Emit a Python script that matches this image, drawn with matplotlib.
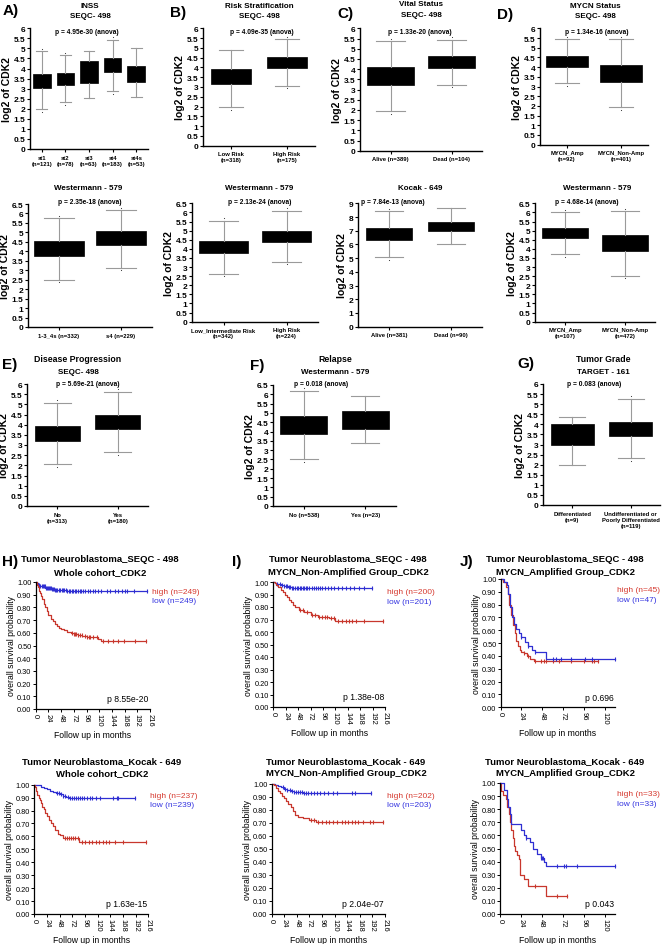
import matplotlib.pyplot as plt
import numpy as np

plt.rcParams['font.family'] = ['Liberation Sans', 'DejaVu Sans']

W, H = 663, 945
nan = np.nan

# ---------------- box plot data (log2 of CDK2) ----------------
inss_labels = ["st1\n(n=121)", "st2\n(n=78)", "st3\n(n=63)", "st4\n(n=183)", "st4s\n(n=53)"]
inss_q1 = [3.05, 3.2, 3.3, 3.85, 3.35]
inss_q3 = [3.75, 3.8, 4.35, 4.5, 4.15]
inss_lo = [2.0, 2.35, 2.55, 2.9, 2.6]
inss_hi = [4.85, 4.65, 4.85, 5.4, 5.0]
inss_dlo = [1.85, 2.2, nan, 2.75, nan]
inss_dhi = [4.95, 4.75, nan, 5.55, nan]

risk_labels = ["Low Risk\n(n=318)", "High Risk\n(n=175)"]
risk_q1 = [3.15, 3.95]
risk_q3 = [3.9, 4.55]
risk_lo = [2.0, 3.05]
risk_hi = [4.9, 5.45]
risk_dlo = [1.85, 2.95]
risk_dhi = [nan, 5.55]

vital_labels = ["Alive (n=389)", "Dead (n=104)"]
vital_q1 = [3.23, 4.07]
vital_q3 = [4.1, 4.62]
vital_lo = [1.97, 3.23]
vital_hi = [5.38, 5.44]
vital_dlo = [1.82, 3.1]
vital_dhi = [5.5, 5.55]

mycn_labels = ["MYCN_Amp\n(n=92)", "MYCN_Non-Amp\n(n=401)"]
mycn_q1 = [4.0, 3.25]
mycn_q3 = [4.55, 4.1]
mycn_lo = [3.2, 1.95]
mycn_hi = [5.45, 5.45]
mycn_dlo = [3.05, 1.8]
mycn_dhi = [5.55, 5.55]

westa_labels = ["1-3_4s (n=332)", "s4 (n=229)"]
westa_q1 = [3.75, 4.33]
westa_q3 = [4.53, 5.05]
westa_lo = [2.51, 3.14]
westa_hi = [5.76, 6.2]
westa_dlo = [2.4, 3.03]
westa_dhi = [5.88, 6.3]

westb_labels = ["Low_Intermediate Risk\n(n=342)", "High Risk\n(n=224)"]
westb_q1 = [3.75, 4.36]
westb_q3 = [4.45, 5.0]
westb_lo = [2.62, 3.3]
westb_hi = [5.55, 6.06]
westb_dlo = [2.5, 3.15]
westb_dhi = [5.7, 6.25]

kocak_labels = ["Alive (n=381)", "Dead (n=90)"]
kocak_q1 = [6.35, 6.98]
kocak_q3 = [7.18, 7.66]
kocak_lo = [5.06, 6.03]
kocak_hi = [8.47, 8.64]
kocak_dlo = [4.9, nan]
kocak_dhi = [8.6, nan]

westd_labels = ["MYCN_Amp\n(n=107)", "MYCN_Non-Amp\n(n=472)"]
westd_q1 = [4.58, 3.86]
westd_q3 = [5.14, 4.76]
westd_lo = [3.7, 2.49]
westd_hi = [6.01, 6.1]
westd_dlo = [3.55, 2.38]
westd_dhi = [6.15, 6.2]

prog_labels = ["No\n(n=313)", "Yes\n(n=180)"]
prog_q1 = [3.2, 3.77]
prog_q3 = [3.93, 4.5]
prog_lo = [2.05, 2.66]
prog_hi = [5.07, 5.62]
prog_dlo = [1.9, 2.5]
prog_dhi = [5.2, 5.75]

relapse_labels = ["No (n=538)", "Yes (n=23)"]
relapse_q1 = [3.88, 4.14]
relapse_q3 = [4.82, 5.09]
relapse_lo = [2.5, 3.39]
relapse_hi = [6.2, 5.9]
relapse_dlo = [2.35, nan]
relapse_dhi = [6.35, nan]

grade_labels = ["Differentiated\n(n=9)", "Undifferentiated or\nPoorly Differentiated\n(n=119)"]
grade_q1 = [2.97, 3.42]
grade_q3 = [4.04, 4.12]
grade_lo = [1.98, 2.31]
grade_hi = [4.34, 5.25]
grade_dlo = [nan, 2.2]
grade_dhi = [nan, 5.4]

# ---------------- Kaplan-Meier data (months, survival) ----------------
seqc_all_high_t = [0, 2, 4, 6, 8, 10, 12, 15, 18, 21, 24, 28, 32, 36, 40, 44, 48, 54, 60, 66, 72, 80, 88, 96, 118, 124]
seqc_all_high_s = [1.00, 0.98, 0.96, 0.93, 0.91, 0.89, 0.87, 0.83, 0.80, 0.77, 0.74, 0.71, 0.69, 0.67, 0.655, 0.64,
                   0.63, 0.62, 0.61, 0.60, 0.59, 0.58, 0.575, 0.565, 0.55, 0.535]
seqc_all_high_end = 208
seqc_all_high_cens = [68, 72, 75, 77, 80, 84, 87, 93, 97, 100, 103, 108, 115, 128, 137, 147, 156, 166, 188, 208]
seqc_all_low_t = [0, 2, 4, 6, 9, 12, 18, 24, 30, 36, 48, 60]
seqc_all_low_s = [1.00, 0.995, 0.985, 0.975, 0.97, 0.965, 0.955, 0.95, 0.945, 0.94, 0.935, 0.93]
seqc_all_low_end = 210
seqc_all_low_cens = [6, 9, 11, 13, 15, 17, 19, 21, 23, 25, 27, 29, 31, 33, 35, 37, 39, 41, 44, 46, 49, 51, 54, 57,
                     60, 62, 65, 68, 71, 74, 77, 80, 83, 86, 90, 94, 98, 103, 108, 113, 118, 124, 134, 140, 150,
                     156, 163, 168, 172, 185, 210]

seqc_non_high_t = [0, 3, 6, 10, 14, 18, 22, 26, 30, 34, 38, 42, 50, 60, 72, 86, 108, 120]
seqc_non_high_s = [1.00, 0.99, 0.975, 0.96, 0.94, 0.92, 0.90, 0.88, 0.86, 0.84, 0.82, 0.80, 0.78, 0.76, 0.74,
                   0.72, 0.71, 0.69]
seqc_non_high_end = 212
seqc_non_high_cens = [52, 58, 66, 74, 80, 88, 94, 100, 104, 112, 118, 126, 132, 140, 146, 152, 160, 175, 212]
seqc_non_low_t = [0, 4, 8, 14, 20, 28, 36, 48]
seqc_non_low_s = [1.00, 0.99, 0.985, 0.975, 0.97, 0.96, 0.955, 0.95]
seqc_non_low_end = 190
seqc_non_low_cens = [8, 12, 16, 20, 24, 27, 30, 33, 36, 39, 42, 45, 48, 51, 54, 57, 60, 63, 66, 70, 74, 78, 82,
                     86, 90, 95, 100, 106, 112, 118, 125, 132, 140, 148, 156, 166, 176, 190]

seqc_amp_high_t = [0, 3, 6, 8, 10, 12, 14, 16, 18, 20, 22, 24, 27, 30, 34, 38]
seqc_amp_high_s = [1.00, 0.98, 0.94, 0.88, 0.80, 0.72, 0.64, 0.58, 0.52, 0.48, 0.45, 0.43, 0.42, 0.40, 0.38, 0.36]
seqc_amp_high_end = 112
seqc_amp_high_cens = [27, 32, 40, 46, 50, 52, 60, 67, 81, 96, 105, 108, 112]
seqc_amp_low_t = [0, 4, 7, 9, 11, 13, 15, 18, 21, 24, 28, 32, 36, 40, 52]
seqc_amp_low_s = [1.00, 0.98, 0.95, 0.88, 0.78, 0.70, 0.65, 0.61, 0.58, 0.55, 0.51, 0.48, 0.45, 0.43, 0.38]
seqc_amp_low_end = 132
seqc_amp_low_cens = [24, 32, 40, 60, 64, 70, 81, 97, 106, 132]

kocak_all_high_t = [0, 2, 4, 6, 8, 10, 12, 15, 18, 21, 24, 28, 32, 36, 40, 44, 48, 54, 84]
kocak_all_high_s = [1.00, 0.98, 0.95, 0.92, 0.90, 0.88, 0.86, 0.83, 0.81, 0.78, 0.76, 0.73, 0.70, 0.68, 0.65,
                    0.62, 0.61, 0.59, 0.56]
kocak_all_high_end = 212
kocak_all_high_cens = [58, 62, 66, 70, 74, 78, 82, 90, 96, 104, 110, 116, 122, 130, 136, 142, 152, 168, 212]
kocak_all_low_t = [0, 6, 12, 18, 24, 30, 36, 42, 48, 54, 60, 66]
kocak_all_low_s = [1.00, 0.995, 0.985, 0.975, 0.965, 0.955, 0.945, 0.935, 0.925, 0.915, 0.905, 0.90]
kocak_all_low_end = 190
kocak_all_low_cens = [43, 47, 51, 55, 59, 63, 67, 71, 75, 79, 83, 87, 91, 95, 100, 105, 110, 116, 124, 150, 156,
                      159, 190]

kocak_non_high_t = [0, 4, 8, 12, 16, 20, 24, 28, 32, 36, 40, 44, 50, 60, 72, 84]
kocak_non_high_s = [1.00, 0.99, 0.97, 0.95, 0.93, 0.91, 0.89, 0.87, 0.85, 0.82, 0.79, 0.76, 0.745, 0.735, 0.72,
                    0.705]
kocak_non_high_end = 212
kocak_non_high_cens = [74, 80, 88, 96, 104, 110, 117, 125, 134, 140, 146, 153, 158, 164, 174, 187, 193, 212]
kocak_non_low_t = [0, 6, 12, 18, 24, 30, 36, 42, 48, 60]
kocak_non_low_s = [1.00, 0.995, 0.985, 0.975, 0.965, 0.955, 0.95, 0.94, 0.935, 0.93]
kocak_non_low_end = 190
kocak_non_low_cens = [22, 26, 30, 34, 38, 42, 46, 50, 54, 58, 62, 66, 70, 75, 80, 86, 92, 100, 108, 117, 125,
                      153, 158, 190]

kocak_amp_high_t = [0, 1, 4, 6.5, 8.5, 10, 11.5, 13, 14.5, 16, 17.5, 20, 21.5, 23, 27, 32, 53]
kocak_amp_high_s = [1.00, 0.94, 0.91, 0.88, 0.82, 0.76, 0.70, 0.64, 0.58, 0.52, 0.48, 0.45, 0.42, 0.30, 0.27,
                    0.21, 0.14]
kocak_amp_high_end = 77
kocak_amp_high_cens = [40, 65, 77]
kocak_amp_low_t = [0, 5, 7.5, 9.5, 11.5, 13, 24, 27, 30, 34, 38, 42, 47, 51, 53]
kocak_amp_low_s = [1.00, 0.95, 0.88, 0.82, 0.76, 0.69, 0.64, 0.60, 0.58, 0.55, 0.50, 0.46, 0.43, 0.40, 0.37]
kocak_amp_low_end = 132
kocak_amp_low_cens = [30, 47, 48, 49, 65, 74, 76, 88, 132]

RED = '#c8372d'
BLUE = '#2f2fd2'
GREY = '#9a9a9a'

fig = plt.figure(figsize=(W / 100, H / 100), dpi=100)


def px_rect(l, t, r, b):
    return [l / W, 1 - b / H, (r - l) / W, (b - t) / H]


def ftext(x, y, s, **kw):
    fig.text(x / W, 1 - y / H, s, **kw)


def box_panel(rect, labels, q1, q3, lo, hi, dlo, dhi, ymax, ystep, width):
    ax = fig.add_axes(px_rect(*rect))
    stats = []
    for i in range(len(labels)):
        fl = [v for v in (dlo[i], dhi[i]) if not np.isnan(v)]
        stats.append(dict(med=(q1[i] + q3[i]) / 2, q1=q1[i], q3=q3[i],
                          whislo=lo[i], whishi=hi[i], fliers=fl))
    ax.bxp(stats, widths=width, capwidths=width * 0.6, patch_artist=True,
           boxprops=dict(facecolor='black', edgecolor='black', linewidth=0.5),
           medianprops=dict(color='black', linewidth=0),
           whiskerprops=dict(color=GREY, linewidth=0.8),
           capprops=dict(color=GREY, linewidth=0.8),
           flierprops=dict(marker='o', markersize=0.5, markerfacecolor='#333333',
                           markeredgecolor='#333333', markeredgewidth=0.3))
    ax.set_xlim(0.5, len(labels) + 0.5)
    ax.set_ylim(0, ymax)
    yt = np.arange(0, ymax + 0.001, ystep)
    ax.set_yticks(yt)
    ax.set_yticklabels(['%g' % v for v in yt], fontsize=6, fontweight='bold')
    ax.set_xticks(range(1, len(labels) + 1))
    ax.set_xticklabels(labels, fontsize=4.2, fontweight='bold', linespacing=1.3)
    for side in ('top', 'right'):
        ax.spines[side].set_visible(False)
    for side in ('left', 'bottom'):
        ax.spines[side].set_linewidth(1.0)
    ax.tick_params(axis='y', length=2.5, width=0.8, pad=1)
    ax.tick_params(axis='x', length=2, width=0.8, pad=2)
    ax.set_ylabel('log2 of CDK2', fontsize=7.5, fontweight='bold', labelpad=1)
    return ax


def km_panel(rect, curves, xmax, xticks, pval, hi_lab, lo_lab, leg_xy):
    ax = fig.add_axes(px_rect(*rect))
    for t, s, end, cens, color in curves:
        ax.step(list(t) + [end], list(s) + [s[-1]], where='post', color=color, lw=0.9, clip_on=False)
        idx = np.searchsorted(t, cens, side='right') - 1
        ax.plot(cens, np.array(s)[idx], ls='none', marker='|', ms=3.5, mew=0.8,
                color=color, clip_on=False)
    ax.set_xlim(0, xmax)
    ax.set_ylim(0, 1)
    ax.set_xticks(xticks)
    ax.set_xticklabels([str(v) for v in xticks], rotation=-90, fontsize=5.5)
    yt = np.round(np.arange(0, 1.001, 0.1), 1)
    ax.set_yticks(yt)
    ax.set_yticklabels(['%.2f' % v for v in yt], fontsize=5.3)
    for side in ('top', 'right'):
        ax.spines[side].set_visible(False)
    for side in ('left', 'bottom'):
        ax.spines[side].set_linewidth(0.9)
    ax.tick_params(length=2, width=0.7, pad=1)
    ax.set_ylabel('overall survival probability', fontsize=6.2, labelpad=1)
    ax.set_xlabel('Follow up in months', fontsize=6.2, labelpad=3)
    ax.text(0.99, 0.08, pval, transform=ax.transAxes, ha='right', va='center', fontsize=6.2)
    ftext(leg_xy[0], leg_xy[1], hi_lab, fontsize=6, color='#d63a30', va='center')
    ftext(leg_xy[0], leg_xy[1] + 9.5, lo_lab, fontsize=6, color='#3535e0', va='center')
    return ax


# ---------------- row 1 ----------------
box_panel((30, 29.3, 148, 150), inss_labels, inss_q1, inss_q3, inss_lo, inss_hi, inss_dlo, inss_dhi, 6, 0.5, 0.75)
box_panel((203, 29.3, 315, 146.7), risk_labels, risk_q1, risk_q3, risk_lo, risk_hi, risk_dlo, risk_dhi, 6, 0.5, 0.7)
box_panel((360, 29.3, 482, 151.7), vital_labels, vital_q1, vital_q3, vital_lo, vital_hi, vital_dlo, vital_dhi, 6, 0.5, 0.77)
box_panel((540, 29.3, 648, 145.7), mycn_labels, mycn_q1, mycn_q3, mycn_lo, mycn_hi, mycn_dlo, mycn_dhi, 6, 0.5, 0.76)

# ---------------- row 2 ----------------
box_panel((28, 205, 152, 328), westa_labels, westa_q1, westa_q3, westa_lo, westa_hi, westa_dlo, westa_dhi, 6.5, 0.5, 0.8)
box_panel((192, 204.3, 318, 322.7), westb_labels, westb_q1, westb_q3, westb_lo, westb_hi, westb_dlo, westb_dhi, 6.5, 0.5, 0.77)
box_panel((358, 204.3, 482, 327.7), kocak_labels, kocak_q1, kocak_q3, kocak_lo, kocak_hi, kocak_dlo, kocak_dhi, 9, 1, 0.74)
box_panel((535, 204.3, 655, 322.7), westd_labels, westd_q1, westd_q3, westd_lo, westd_hi, westd_dlo, westd_dhi, 6.5, 0.5, 0.78)

# ---------------- row 3 ----------------
box_panel((27, 385, 148, 507), prog_labels, prog_q1, prog_q3, prog_lo, prog_hi, prog_dlo, prog_dhi, 6, 0.5, 0.75)
box_panel((273, 386, 396, 507), relapse_labels, relapse_q1, relapse_q3, relapse_lo, relapse_hi, relapse_dlo, relapse_dhi, 6.5, 0.5, 0.77)
box_panel((543, 385, 660, 506), grade_labels, grade_q1, grade_q3, grade_lo, grade_hi, grade_dlo, grade_dhi, 6, 0.5, 0.74)

# ---------------- KM rows ----------------
km_panel((35.7, 583, 150, 710),
         [(seqc_all_low_t, seqc_all_low_s, seqc_all_low_end, seqc_all_low_cens, BLUE),
          (seqc_all_high_t, seqc_all_high_s, seqc_all_high_end, seqc_all_high_cens, RED)],
         216, list(range(0, 217, 24)), 'p 8.55e-20', 'high (n=249)', 'low (n=249)', (152, 592))
km_panel((273.3, 583, 385, 708),
         [(seqc_non_low_t, seqc_non_low_s, seqc_non_low_end, seqc_non_low_cens, BLUE),
          (seqc_non_high_t, seqc_non_high_s, seqc_non_high_end, seqc_non_high_cens, RED)],
         216, list(range(0, 217, 24)), 'p 1.38e-08', 'high (n=200)', 'low (n=201)', (387, 593))
km_panel((500.7, 580, 615, 708.3),
         [(seqc_amp_high_t, seqc_amp_high_s, seqc_amp_high_end, seqc_amp_high_cens, RED),
          (seqc_amp_low_t, seqc_amp_low_s, seqc_amp_low_end, seqc_amp_low_cens, BLUE)],
         132, list(range(0, 121, 24)), 'p 0.696', 'high (n=45)', 'low (n=47)', (617, 591))
km_panel((34.3, 785.7, 148.3, 915),
         [(kocak_all_low_t, kocak_all_low_s, kocak_all_low_end, kocak_all_low_cens, BLUE),
          (kocak_all_high_t, kocak_all_high_s, kocak_all_high_end, kocak_all_high_cens, RED)],
         216, list(range(0, 217, 24)), 'p 1.63e-15', 'high (n=237)', 'low (n=239)', (150, 796))
km_panel((271.7, 785, 385, 915),
         [(kocak_non_low_t, kocak_non_low_s, kocak_non_low_end, kocak_non_low_cens, BLUE),
          (kocak_non_high_t, kocak_non_high_s, kocak_non_high_end, kocak_non_high_cens, RED)],
         216, list(range(0, 217, 24)), 'p 2.04e-07', 'high (n=202)', 'low (n=203)', (387, 796))
km_panel((500, 784, 615, 915),
         [(kocak_amp_high_t, kocak_amp_high_s, kocak_amp_high_end, kocak_amp_high_cens, RED),
          (kocak_amp_low_t, kocak_amp_low_s, kocak_amp_low_end, kocak_amp_low_cens, BLUE)],
         132, list(range(0, 121, 24)), 'p 0.043', 'high (n=33)', 'low (n=33)', (617, 795))

# ---------------- titles, p-values, panel letters ----------------
tb = dict(fontweight='bold', ha='center', va='center')
for x, y1, y2, t1, t2 in [(90, 6.5, 17, 'INSS', 'SEQC- 498'),
                          (259, 6.5, 17, 'Risk Stratification', 'SEQC- 498'),
                          (421, 4.5, 15.5, 'Vital Status', 'SEQC- 498'),
                          (595, 6.5, 17, 'MYCN Status', 'SEQC- 498')]:
    ftext(x, y1, t1, fontsize=5.8, **tb)
    ftext(x, y2, t2, fontsize=5.8, **tb)
for x, t in [(88, 'Westermann - 579'), (259, 'Westermann - 579'), (420, 'Kocak - 649'), (597, 'Westermann - 579')]:
    ftext(x, 189, t, fontsize=5.8, **tb)
for x, t1, t2 in [(78, 'Disease Progression', 'SEQC- 498'), (335, 'Relapse', 'Westermann - 579'),
                  (603, 'Tumor Grade', 'TARGET - 161')]:
    ftext(x, 360, t1, fontsize=6.3, **tb)
    ftext(x, 373, t2, fontsize=5.8, **tb)

for x, y, p in [(87, 32, 'p = 4.95e-30 (anova)'), (262, 32, 'p = 4.09e-35 (anova)'),
                (420, 32, 'p = 1.33e-20 (anova)'), (597, 32, 'p = 1.34e-16 (anova)'),
                (90, 203, 'p = 2.35e-18 (anova)'), (260, 203, 'p = 2.13e-24 (anova)'),
                (393, 203, 'p = 7.84e-13 (anova)'), (587, 203, 'p = 4.68e-14 (anova)'),
                (88, 384, 'p = 5.69e-21 (anova)'), (321, 385, 'p = 0.018 (anova)'),
                (594, 384, 'p = 0.083 (anova)')]:
    ftext(x, y, p, fontsize=4.8, **tb)

for x, y1, y2, t1, t2 in [(100, 560, 573, 'Tumor Neuroblastoma_SEQC - 498', 'Whole cohort_CDK2'),
                          (348, 560, 573, 'Tumor Neuroblastoma_SEQC - 498', 'MYCN_Non-Amplified Group_CDK2'),
                          (565, 560, 573, 'Tumor Neuroblastoma_SEQC - 498', 'MYCN_Amplified Group_CDK2'),
                          (102, 762, 774, 'Tumor Neuroblastoma_Kocak - 649', 'Whole cohort_CDK2'),
                          (346, 762, 774, 'Tumor Neuroblastoma_Kocak - 649', 'MYCN_Non-Amplified Group_CDK2'),
                          (565, 762, 774, 'Tumor Neuroblastoma_Kocak - 649', 'MYCN_Amplified Group_CDK2')]:
    ftext(x, y1, t1, fontsize=6.8, **tb)
    ftext(x, y2, t2, fontsize=6.8, **tb)

for x, y, s in [(3, 11, 'A)'), (170, 13, 'B)'), (337, 14, 'C)'), (497, 15, 'D)'),
                (2, 365, 'E)'), (250, 366, 'F)'), (517, 364, 'G)'),
                (2, 562, 'H)'), (232, 562, 'I)'), (460, 562, 'J)')]:
    ftext(x, y, s, fontsize=11, fontweight='bold', ha='left', va='center')

fig.savefig('out.png', dpi=100)
